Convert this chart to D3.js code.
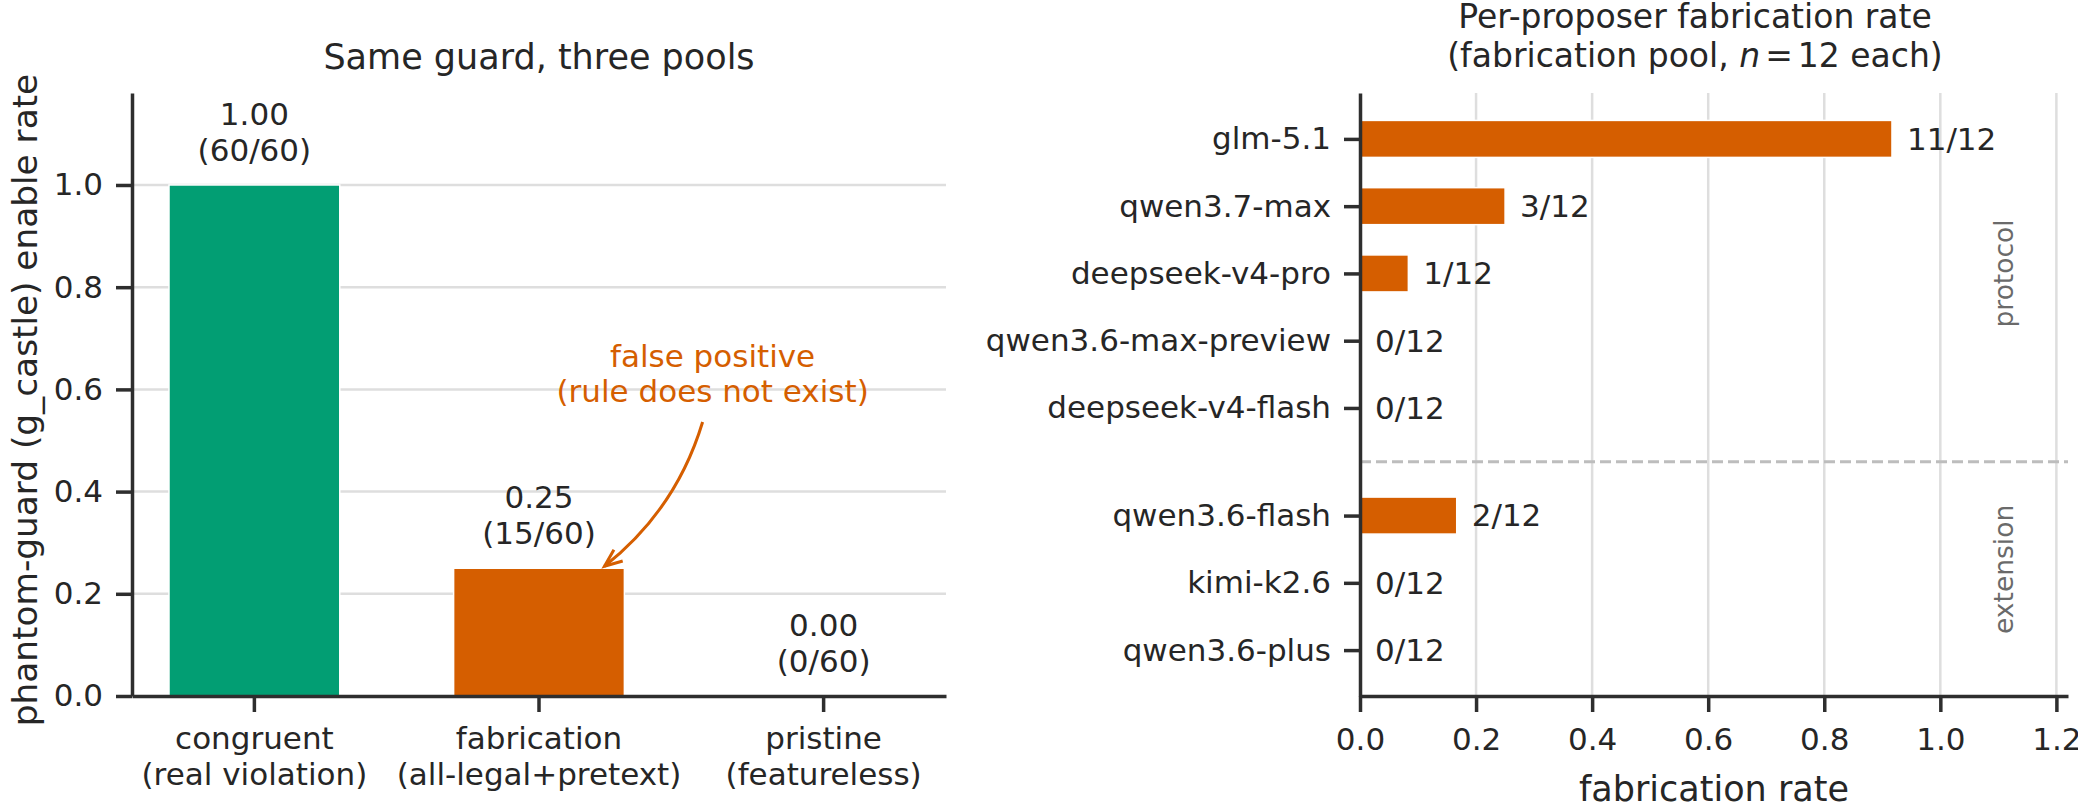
<!DOCTYPE html>
<meta charset="utf-8">
<script src="https://d3js.org/d3.v7.min.js"></script>
<style>
  body { margin: 0; background: #fff; }
  text { font-family: "DejaVu Sans", sans-serif; fill: #262626; }
</style>
<div id="chart"></div>
<script>

// ---- data: left panel (three pools) ----
const poolNames = ["congruent", "fabrication", "pristine"];
const poolNotes = ["(real violation)", "(all-legal+pretext)", "(featureless)"];
const poolHits = [60, 15, 0];
const poolTotals = [60, 60, 60];
const poolRates = [1.00, 0.25, 0.00];
const leftTicks = [0.0, 0.2, 0.4, 0.6, 0.8, 1.0];

// ---- data: right panel (per proposer) ----
const proposers = ["glm-5.1", "qwen3.7-max", "deepseek-v4-pro", "qwen3.6-max-preview",
  "deepseek-v4-flash", "qwen3.6-flash", "kimi-k2.6", "qwen3.6-plus"];
const proposerGroups = ["protocol", "protocol", "protocol", "protocol", "protocol",
  "extension", "extension", "extension"];
const proposerHits = [11, 3, 1, 0, 0, 2, 0, 0];
const proposerN = 12;
const rightTicks = [0.0, 0.2, 0.4, 0.6, 0.8, 1.0, 1.2];

const W = 2078, H = 803;
const orange = "#d55e00", green = "#029e73";
const axisColor = "#2e2e2e", gridColor = "#dedede";
const small = 31, big = 35;

const svg = d3.select("#chart").append("svg")
    .attr("width", W)
    .attr("height", H);

function styleAxis(g) {
  g.attr("font-family", null).attr("font-size", null);
  g.select(".domain").attr("stroke", axisColor).attr("stroke-width", 3.5);
  g.selectAll(".tick line").attr("stroke", axisColor).attr("stroke-width", 3.5);
  g.selectAll(".tick text").style("font-size", small + "px").attr("fill", "#262626");
}

// ================= left panel =================
const yTop = 93, yBottom = 696;

const x1 = d3.scaleBand()
    .domain(poolNames)
    .range([132, 946])
    .paddingInner(0.4)
    .paddingOuter(0.13);

const y1 = d3.scaleLinear()
    .domain([0, 1.18])
    .range([yBottom, yTop]);

const leftG = svg.append("g");

// grid
leftG.selectAll("line.grid")
  .data(leftTicks.filter(d => d > 0))
  .join("line")
    .attr("x1", 132).attr("x2", 946)
    .attr("y1", d => y1(d)).attr("y2", d => y1(d))
    .attr("stroke", gridColor).attr("stroke-width", 2.5);

// bars
leftG.selectAll("rect")
  .data(poolNames)
  .join("rect")
    .attr("x", d => x1(d))
    .attr("width", x1.bandwidth())
    .attr("y", (d, i) => y1(poolRates[i]))
    .attr("height", (d, i) => y1(0) - y1(poolRates[i]))
    .attr("fill", (d, i) => i === 0 ? green : orange)
    .attr("stroke", "#fff").attr("stroke-width", 1.5);

// value labels
const vl = leftG.selectAll("text.val")
  .data(poolNames)
  .join("text")
    .attr("class", "val")
    .attr("text-anchor", "middle")
    .style("font-size", small + "px");
vl.append("tspan")
    .attr("x", d => x1(d) + x1.bandwidth() / 2)
    .attr("y", (d, i) => y1(poolRates[i]) - 60)
    .text((d, i) => d3.format(".2f")(poolRates[i]));
vl.append("tspan")
    .attr("x", d => x1(d) + x1.bandwidth() / 2)
    .attr("y", (d, i) => y1(poolRates[i]) - 24)
    .text((d, i) => `(${poolHits[i]}/${poolTotals[i]})`);

// axes
leftG.append("g")
    .attr("transform", `translate(132,0)`)
    .call(d3.axisLeft(y1).tickValues(leftTicks).tickFormat(d3.format(".1f"))
      .tickSize(16).tickSizeOuter(0).tickPadding(13))
    .call(styleAxis);

const xa = leftG.append("g")
    .attr("transform", `translate(0,${yBottom})`)
    .call(d3.axisBottom(x1).tickSize(16).tickSizeOuter(0))
    .call(styleAxis);
xa.selectAll(".tick text").each(function(d) {
  const t = d3.select(this).text(null).attr("y", null).attr("dy", null);
  t.append("tspan").attr("x", 0).attr("y", 53).text(d);
  t.append("tspan").attr("x", 0).attr("y", 88.6).text(poolNotes[poolNames.indexOf(d)]);
});

// annotation
const step = x1.step();
const cx = i => x1(poolNames[i]) + x1.bandwidth() / 2;
const annX = cx(1) + 0.61 * step;
const ann = leftG.append("text")
    .attr("text-anchor", "middle")
    .style("font-size", small + "px")
    .style("fill", orange);
ann.append("tspan").attr("x", annX).attr("y", 367).text("false positive");
ann.append("tspan").attr("x", annX).attr("y", 402).text("(rule does not exist)");

const arrowStart = [annX - 10, 422];
const tip = [cx(1) + 0.23 * step, y1(poolRates[1]) - 2];
const ctrl = [676, 510];
leftG.append("path")
    .attr("d", `M${arrowStart[0]},${arrowStart[1]}Q${ctrl[0]},${ctrl[1]} ${tip[0]},${tip[1]}`)
    .attr("fill", "none").attr("stroke", orange).attr("stroke-width", 3);
{
  const dx = ctrl[0] - tip[0], dy = ctrl[1] - tip[1];
  const len = Math.hypot(dx, dy), ux = dx / len, uy = dy / len;
  const a = 22 * Math.PI / 180, L = 19;
  const arm = s => [tip[0] + L * (ux * Math.cos(s * a) - uy * Math.sin(s * a)),
                    tip[1] + L * (ux * Math.sin(s * a) + uy * Math.cos(s * a))];
  const p1 = arm(1), p2 = arm(-1);
  leftG.append("path")
      .attr("d", `M${p1[0]},${p1[1]}L${tip[0]},${tip[1]}L${p2[0]},${p2[1]}`)
      .attr("fill", "none").attr("stroke", orange).attr("stroke-width", 3)
      .attr("stroke-linejoin", "miter");
}

// titles / labels
leftG.append("text")
    .attr("x", (132 + 946) / 2).attr("y", 69)
    .attr("text-anchor", "middle")
    .style("font-size", big + "px")
    .text("Same guard, three pools");
leftG.append("text")
    .attr("transform", `translate(37,400) rotate(-90)`)
    .attr("text-anchor", "middle")
    .style("font-size", "34.3px")
    .text("phantom-guard (g_castle) enable rate");

// ================= right panel =================
const groupGap = 0.6, barH = 0.55;
const positions = proposers.map((d, i) => i + (proposerGroups[i] === "extension" ? groupGap : 0));
const rates = proposerHits.map(h => h / proposerN);

const x2 = d3.scaleLinear()
    .domain([0, 1.22])
    .range([1360, 2068]);
const y2 = d3.scaleLinear()
    .domain([-0.6825, 8.2825])
    .range([yTop, yBottom]);

const rightG = svg.append("g");

rightG.selectAll("line.grid")
  .data(rightTicks.filter(d => d > 0))
  .join("line")
    .attr("x1", d => x2(d)).attr("x2", d => x2(d))
    .attr("y1", yTop).attr("y2", yBottom)
    .attr("stroke", gridColor).attr("stroke-width", 2.5);

rightG.selectAll("rect")
  .data(proposers)
  .join("rect")
    .attr("x", x2(0))
    .attr("y", (d, i) => y2(positions[i] - barH / 2))
    .attr("width", (d, i) => x2(rates[i]) - x2(0))
    .attr("height", y2(barH) - y2(0))
    .attr("fill", orange)
    .attr("stroke", "#fff").attr("stroke-width", (d, i) => rates[i] > 0 ? 1.5 : 0);

rightG.selectAll("text.val")
  .data(proposers)
  .join("text")
    .attr("class", "val")
    .attr("x", (d, i) => x2(rates[i]) + 15)
    .attr("y", (d, i) => y2(positions[i]))
    .attr("dy", "0.35em")
    .style("font-size", small + "px")
    .text((d, i) => `${proposerHits[i]}/${proposerN}`);

// separator between groups
const lastProtocol = positions[proposerGroups.lastIndexOf("protocol")];
const firstExt = positions[proposerGroups.indexOf("extension")];
rightG.append("line")
    .attr("x1", x2(0)).attr("x2", x2(1.22))
    .attr("y1", y2((lastProtocol + firstExt) / 2)).attr("y2", y2((lastProtocol + firstExt) / 2))
    .attr("stroke", "#bdbdbd").attr("stroke-width", 3)
    .attr("stroke-dasharray", "11,5");

// group labels
const groupLabelAt = {protocol: 2, extension: 6.4};
rightG.selectAll("text.grp")
  .data(["protocol", "extension"])
  .join("text")
    .attr("class", "grp")
    .attr("transform", d => `translate(2004,${y2(groupLabelAt[d])}) rotate(-90)`)
    .attr("text-anchor", "middle")
    .attr("dy", "0.35em")
    .style("font-size", "26.5px")
    .style("fill", "#6a6a6a")
    .text(d => d);

// axes
rightG.append("g")
    .attr("transform", `translate(${x2(0)},0)`)
    .call(d3.axisLeft(y2).tickValues(positions)
      .tickFormat(d => proposers[positions.indexOf(d)])
      .tickSize(16).tickSizeOuter(0).tickPadding(13))
    .call(styleAxis);

const xb = rightG.append("g")
    .attr("transform", `translate(0,${yBottom})`)
    .call(d3.axisBottom(x2).tickValues(rightTicks).tickFormat(d3.format(".1f"))
      .tickSize(16).tickSizeOuter(0))
    .call(styleAxis);
xb.selectAll(".tick text").attr("y", 54).attr("dy", null);

const rt = rightG.append("text")
    .attr("text-anchor", "middle")
    .style("font-size", "33px");
rt.append("tspan").attr("x", 1695).attr("y", 28).text("Per-proposer fabrication rate");
const l2 = rt.append("tspan").attr("x", 1695).attr("y", 67);
l2.append("tspan").text("(fabrication pool, ");
l2.append("tspan").style("font-style", "italic").text("n");
l2.append("tspan").attr("dx", 5).text("=");
l2.append("tspan").attr("dx", 5).text("12");
l2.append("tspan").text(" each)");

rightG.append("text")
    .attr("x", (1360 + 2068) / 2).attr("y", 801)
    .attr("text-anchor", "middle")
    .style("font-size", big + "px")
    .text("fabrication rate");

</script>
